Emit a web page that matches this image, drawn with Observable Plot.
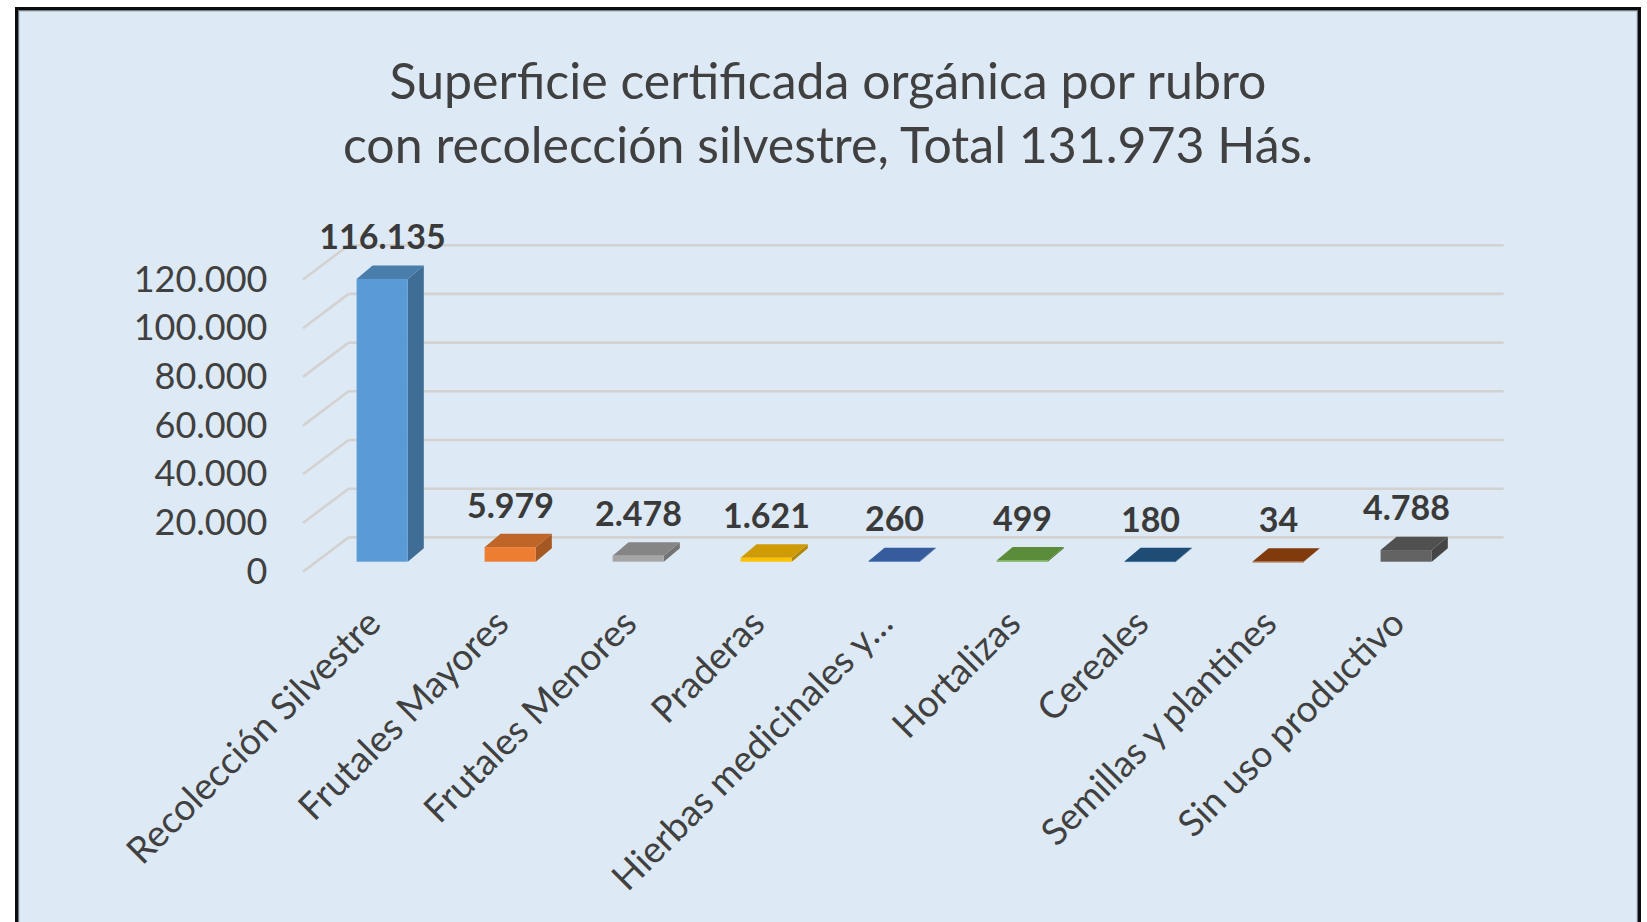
<!DOCTYPE html>
<html><head><meta charset="utf-8">
<script src="https://cdn.jsdelivr.net/npm/d3@7"></script>
<script src="https://cdn.jsdelivr.net/npm/@observablehq/plot@0.6"></script>
<style>
html,body{margin:0;padding:0;background:#fff;overflow:hidden;width:1647px;height:922px;}
#frame{position:absolute;left:15px;top:7px;width:1626px;height:960px;box-sizing:border-box;border:3.5px solid #0c0c0c;box-shadow:inset 0 0 0 1.2px #6f7a88;background:#dde9f5;}
#title{position:absolute;left:15px;top:48px;width:1626px;text-align:center;font-family:Lato,sans-serif;font-size:50px;line-height:64px;color:#404040;}
#chart{position:absolute;left:0;top:190px;}
</style></head><body>
<div id="frame"></div>
<div id="title"></div>
<div id="chart"></div>
<script>
const titleLines = ["Superficie certificada orgánica por rubro", "con recolección silvestre, Total 131.973 Hás."];
const categories = ["Recolección Silvestre", "Frutales Mayores", "Frutales Menores", "Praderas", "Hierbas medicinales y…", "Hortalizas", "Cereales", "Semillas y plantines", "Sin uso productivo"];
const values = [116135, 5979, 2478, 1621, 260, 499, 180, 34, 4788];
const colors = ["#5b9bd5", "#ed7d31", "#a5a5a5", "#ffc000", "#4472c4", "#70ad47", "#255e91", "#9e480e", "#636363"];
const yTicks = [0, 20000, 40000, 60000, 80000, 100000, 120000];

document.getElementById("title").innerHTML = titleLines.join("<br>");

const data = categories.map((c, i) => ({category: c, value: values[i], color: colors[i]}));
const locale = d3.formatLocale({decimal: ",", thousands: ".", grouping: [3], currency: ["", ""]});
const fmt = locale.format(",d");

// 3D geometry (pixels)
const WALL = [45.6, -34.3];       // depth of the chart floor
const BAR_FRONT = [13.2, -10];    // bar front face offset from front plane
const BAR_DEPTH = [16, -13.4];    // bar depth
const BAR_W = 0.4;                // bar width as fraction of band
const GRID = "#d3d2d1";

function bandInfo(scales, dims) {
  const x = scales.x;
  let bw = (x && x.bandwidth) ? x.bandwidth() : 0;
  if (!bw) bw = (dims.width - dims.marginLeft - dims.marginRight) / categories.length;
  return {x, bw};
}

function walls(index, scales, channels, dims) {
  const g = d3.create("svg:g");
  const x0 = dims.marginLeft, x1 = dims.width - dims.marginRight;
  for (const t of yTicks) {
    const y = scales.y(t);
    g.append("line").attr("x1", x0).attr("y1", y).attr("x2", x0 + WALL[0]).attr("y2", y + WALL[1])
      .attr("stroke", GRID).attr("stroke-width", 2.6);
    g.append("line").attr("x1", x0 + WALL[0]).attr("y1", y + WALL[1]).attr("x2", x1 + WALL[0]).attr("y2", y + WALL[1])
      .attr("stroke", GRID).attr("stroke-width", 2.6);
  }
  return g.node();
}

function bars(index, scales, channels, dims) {
  const g = d3.create("svg:g");
  const {x, bw} = bandInfo(scales, dims);
  const w = bw * BAR_W;
  for (const d of data) {
    const cx = x(d.category) + bw / 2 + BAR_FRONT[0];
    const l = cx - w / 2, r = cx + w / 2;
    const yb = scales.y(0) + BAR_FRONT[1];
    const yt = scales.y(d.value) + BAR_FRONT[1];
    const c = d3.color(d.color);
    const side = c.darker(1.0).formatHex();
    const top = c.darker(0.6).formatHex();
    const [dx, dy] = BAR_DEPTH;
    g.append("polygon").attr("points", [[r, yt], [r + dx, yt + dy], [r + dx, yb + dy], [r, yb]].join(" ")).attr("fill", side);
    g.append("polygon").attr("points", [[l, yt], [r, yt], [r + dx, yt + dy], [l + dx, yt + dy]].join(" ")).attr("fill", top);
    g.append("rect").attr("x", l).attr("y", yt).attr("width", w).attr("height", Math.max(0.8, yb - yt)).attr("fill", d.color);
  }
  return g.node();
}

const chart = Plot.plot({
  width: 1647,
  height: 732,
  marginLeft: 303,
  marginRight: 189,
  marginTop: 89.5,
  marginBottom: 350.3,
  style: {background: "transparent", color: "#404040", fontFamily: "Lato, sans-serif", overflow: "visible"},
  x: {type: "band", domain: categories, padding: 0},
  y: {domain: [0, 120000]},
  marks: [
    walls,
    bars,
    Plot.text(data, {x: "category", y: "value", text: d => fmt(d.value), dx: 13, dy: -51,
      fontSize: 34, fontWeight: "bold", fill: "#3a3a3a"}),
    Plot.axisY(yTicks, {tickSize: 0, tickPadding: 36, fontSize: 36, tickFormat: fmt, label: null, fill: "#404040"}),
    Plot.axisX({tickRotate: -45, tickSize: 0, tickPadding: 45, dx: 5, fontSize: 37, label: null, fill: "#404040"})
  ]
});
document.getElementById("chart").appendChild(chart);
</script>
</body></html>
